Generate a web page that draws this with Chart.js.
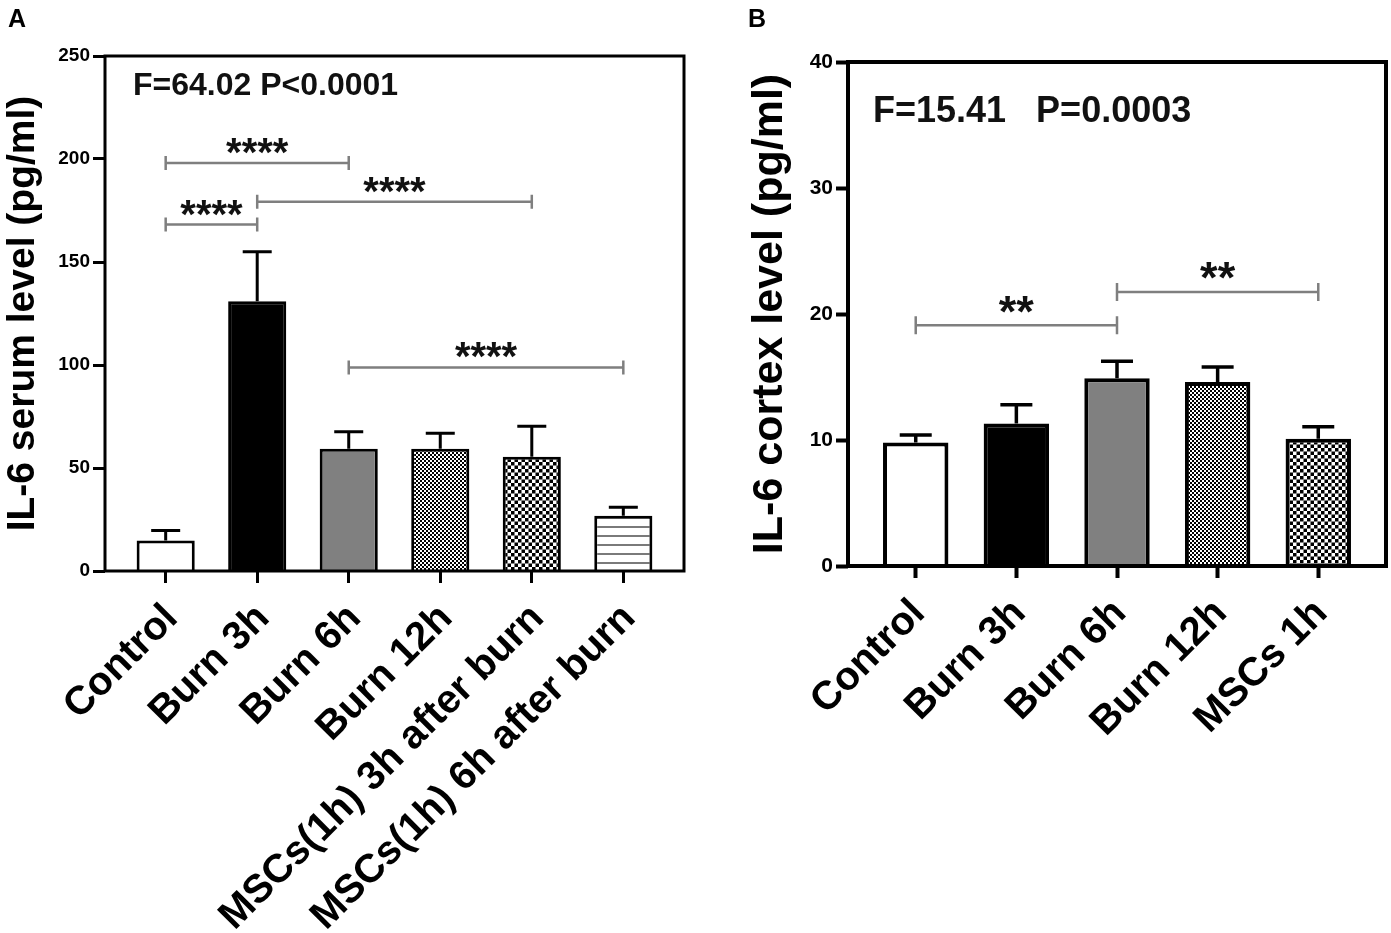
<!DOCTYPE html>
<html><head><meta charset="utf-8">
<script src="https://cdn.jsdelivr.net/npm/chart.js@4.4.1/dist/chart.umd.min.js"></script>
<style>
html,body{margin:0;padding:0;background:#fff;}
#wrap{position:relative;width:1391px;height:933px;overflow:hidden;background:#fff;}
canvas{position:absolute;top:0;}
#ca{left:0;} #cb{left:740px;}
</style></head><body>
<div id="wrap"><canvas id="ca" width="730" height="933"></canvas><canvas id="cb" width="651" height="933"></canvas></div>
<script>
// ---------- Panel A data ----------
const categoriesA = ['Control', 'Burn 3h', 'Burn 6h', 'Burn 12h', 'MSCs(1h) 3h after burn', 'MSCs(1h) 6h after burn'];
const meanA = [14.8, 131, 59.3, 59.3, 55.5, 26.8];
const sdA = [4.8, 24, 8.3, 7.6, 14.8, 4.1];
const ticksA = [0, 50, 100, 150, 200, 250];
// [from index, to index, bracket y value, label]
const bracketsA = [[0, 2, 198, '****'], [0, 1, 168.2, '****'], [1, 4, 179.2, '****'], [2, 5, 98.8, '****']];
const statA = 'F=64.02 P<0.0001';
const titleA = 'IL-6 serum level (pg/ml)';

// ---------- Panel B data ----------
const categoriesB = ['Control', 'Burn 3h', 'Burn 6h', 'Burn 12h', 'MSCs 1h'];
const meanB = [9.8, 11.3, 14.9, 14.6, 10.1];
const sdB = [0.6, 1.5, 1.35, 1.2, 0.95];
const ticksB = [0, 10, 20, 30, 40];
const bracketsB = [[0, 2, 19.1, '**'], [2, 4, 21.75, '**']];
const statB = 'F=15.41   P=0.0003';
const titleB = 'IL-6 cortex level (pg/ml)';

const FONT = "'Liberation Sans', Arial, Helvetica, sans-serif";

function makePattern(ctx, kind) {
  const c = document.createElement('canvas');
  const g = c.getContext('2d');
  if (kind === 'fine') {
    c.width = 4; c.height = 4;
    g.fillStyle = '#fff'; g.fillRect(0, 0, 4, 4);
    g.fillStyle = '#000'; g.fillRect(0, 0, 2, 2); g.fillRect(2, 2, 2, 2);
  } else if (kind === 'coarse') {
    c.width = 7; c.height = 7;
    g.fillStyle = '#fff'; g.fillRect(0, 0, 7, 7);
    g.fillStyle = '#000'; g.fillRect(0, 0, 3.5, 3.5); g.fillRect(3.5, 3.5, 3.5, 3.5);
  } else if (kind === 'lines') {
    c.width = 9; c.height = 9;
    g.fillStyle = '#fff'; g.fillRect(0, 0, 9, 9);
    g.fillStyle = '#7a7a7a'; g.fillRect(0, 4, 9, 2);
  }
  return ctx.createPattern(c, 'repeat');
}

function fillFor(ctx, kind) {
  if (kind === 'white') return '#ffffff';
  if (kind === 'black') return '#000000';
  if (kind === 'gray') return '#808080';
  return makePattern(ctx, kind);
}

const extrasPlugin = {
  id: 'extras',
  afterDatasetsDraw(chart, args, o) {
    const ctx = chart.ctx, ys = chart.scales.y;
    const meta = chart.getDatasetMeta(0);
    const data = chart.data.datasets[0].data;
    ctx.save();
    ctx.strokeStyle = '#000';
    ctx.lineWidth = o.errWidth;
    meta.data.forEach((el, i) => {
      const top = ys.getPixelForValue(data[i].y + o.sd[i]);
      ctx.beginPath();
      ctx.moveTo(el.x, el.y);
      ctx.lineTo(el.x, top);
      ctx.moveTo(el.x - o.capW / 2, top);
      ctx.lineTo(el.x + o.capW / 2, top);
      ctx.stroke();
    });
    ctx.restore();
  },
  afterDraw(chart, args, o) {
    const ctx = chart.ctx, ca = chart.chartArea, xs = chart.scales.x, ys = chart.scales.y;
    ctx.save();
    // frame
    ctx.strokeStyle = '#000';
    ctx.lineWidth = o.boxW;
    ctx.strokeRect(ca.left, ca.top, ca.right - ca.left, ca.bottom - ca.top);
    // brackets
    o.brackets.forEach(([a, b, v, label]) => {
      const x1 = xs.getPixelForValue(a), x2 = xs.getPixelForValue(b), y = ys.getPixelForValue(v);
      ctx.strokeStyle = '#7f7f7f';
      ctx.lineWidth = o.brW;
      ctx.beginPath();
      ctx.moveTo(x1, y); ctx.lineTo(x2, y);
      ctx.moveTo(x1, y - o.brTick); ctx.lineTo(x1, y + o.brTick);
      ctx.moveTo(x2, y - o.brTick); ctx.lineTo(x2, y + o.brTick);
      ctx.stroke();
      ctx.font = o.starFont;
      ctx.fillStyle = '#111';
      ctx.textAlign = 'center';
      ctx.textBaseline = 'alphabetic';
      const m = ctx.measureText('*');
      const mid = (m.actualBoundingBoxAscent - m.actualBoundingBoxDescent) / 2;
      ctx.fillText(label, (x1 + x2) / 2, y - o.starGap + mid);
    });
    // stat text
    ctx.fillStyle = '#111';
    ctx.font = o.statFont;
    ctx.textAlign = 'left';
    ctx.textBaseline = 'alphabetic';
    ctx.fillText(o.statText, ca.left + o.statDx, ca.top + o.statDy);
    // panel label
    ctx.fillStyle = '#000';
    ctx.font = 'bold 25px ' + FONT;
    ctx.fillText(o.panel, 8, 27);
    ctx.restore();
  }
};

function buildChart(id, cfg) {
  const canvas = document.getElementById(id);
  const ctx = canvas.getContext('2d');
  const fills = cfg.fills.map(k => fillFor(ctx, k));
  const tickGrid = { display: true, offset: false, drawOnChartArea: false, drawTicks: true, tickLength: 12, tickWidth: cfg.boxW, tickColor: '#000' };
  return new Chart(ctx, {
    type: 'bar',
    data: {
      datasets: [{
        data: cfg.means.map((v, i) => ({ x: i, y: v })),
        backgroundColor: fills,
        borderColor: '#000',
        borderWidth: cfg.barBorder,
        borderSkipped: 'start',
        barPercentage: cfg.barPct,
        categoryPercentage: 1
      }]
    },
    options: {
      responsive: false,
      animation: false,
      events: [],
      layout: { padding: cfg.padding },
      plugins: {
        legend: { display: false },
        tooltip: { enabled: false },
        extras: {
          sd: cfg.sd, brackets: cfg.brackets, capW: cfg.capW, errWidth: cfg.errWidth, boxW: cfg.boxW,
          brW: 2.5, brTick: cfg.brTick, starFont: cfg.starFont, starGap: cfg.starGap,
          statText: cfg.statText, statFont: cfg.statFont, statDx: cfg.statDx, statDy: cfg.statDy, panel: cfg.panel
        }
      },
      scales: {
        x: {
          type: 'linear',
          min: -cfg.xPad, max: cfg.categories.length - 1 + cfg.xPad,
          offset: false,
          afterBuildTicks: s => { s.ticks = cfg.categories.map((_, i) => ({ value: i })); },
          afterFit: s => { s.height = cfg.xHeight; },
          grid: tickGrid,
          border: { display: false },
          ticks: {
            autoSkip: false, maxRotation: 45, minRotation: 45, color: '#000', padding: cfg.xLabelPad,
            labelOffset: cfg.xLabelOffset,
            font: { family: FONT, weight: 'bold', size: cfg.xFont },
            callback: v => cfg.categories[v]
          }
        },
        y: {
          min: cfg.yTicks[0], max: cfg.yTicks[cfg.yTicks.length - 1],
          afterBuildTicks: s => { s.ticks = cfg.yTicks.map(v => ({ value: v })); },
          afterFit: s => { s.width = cfg.yWidth; },
          grid: tickGrid,
          border: { display: false },
          ticks: { color: '#000', padding: 3, font: { family: FONT, weight: 'bold', size: cfg.yFont } },
          title: {
            display: true, text: cfg.title, color: '#000',
            padding: { top: cfg.titlePad, bottom: 0 },
            font: { family: FONT, weight: 'bold', size: cfg.titleFont }
          }
        }
      }
    },
    plugins: [extrasPlugin]
  });
}

buildChart('ca', {
  categories: categoriesA, means: meanA, sd: sdA, yTicks: ticksA, brackets: bracketsA,
  fills: ['white', 'black', 'gray', 'fine', 'coarse', 'lines'],
  padding: { left: 0, top: 56, right: 46, bottom: 0 },
  xPad: 0.663, xHeight: 362, yWidth: 105, barPct: 0.635, barBorder: 3,
  capW: 29, errWidth: 3, boxW: 3, brTick: 7, starFont: 'bold 40px ' + FONT, starGap: 17,
  statText: statA, statFont: 'bold 32px ' + FONT, statDx: 28, statDy: 39, panel: 'A',
  xFont: 40, xLabelPad: 12, xLabelOffset: 6, yFont: 19, title: titleA, titleFont: 39, titlePad: 0
});

buildChart('cb', {
  categories: categoriesB, means: meanB, sd: sdB, yTicks: ticksB, brackets: bracketsB,
  fills: ['white', 'black', 'gray', 'fine', 'coarse'],
  padding: { left: 0, top: 62, right: 5, bottom: 0 },
  xPad: 0.673, xHeight: 367, yWidth: 108, barPct: 0.65, barBorder: 4,
  capW: 32, errWidth: 3.5, boxW: 4, brTick: 9, starFont: 'bold 45px ' + FONT, starGap: 21,
  statText: statB, statFont: 'bold 36px ' + FONT, statDx: 25, statDy: 60, panel: 'B',
  xFont: 40, xLabelPad: 12, xLabelOffset: 3, yFont: 21, title: titleB, titleFont: 43, titlePad: 4
});
</script>
</body></html>
